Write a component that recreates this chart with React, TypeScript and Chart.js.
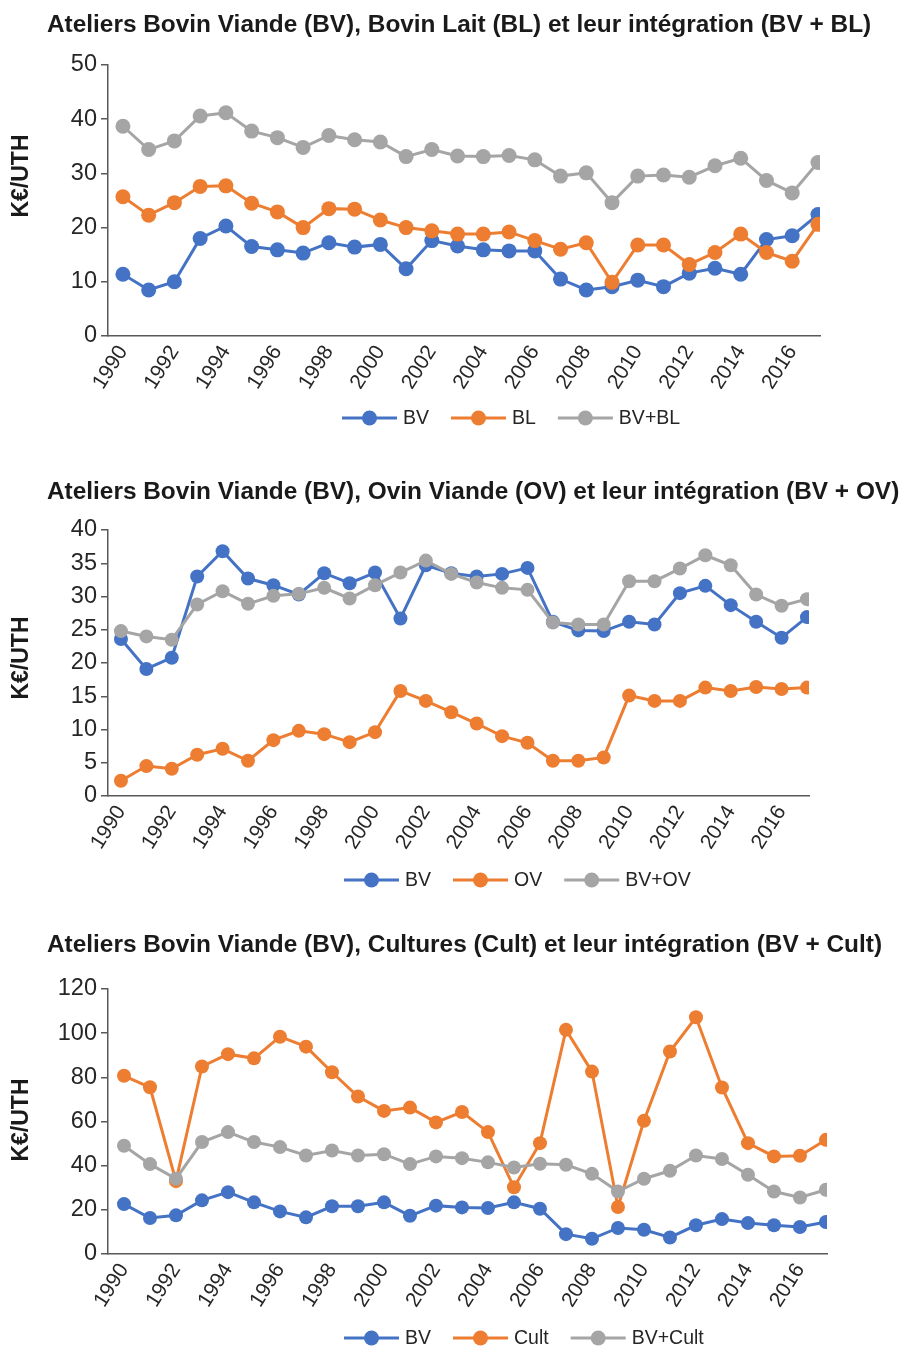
import React, { useEffect, useRef } from 'react';
import { Chart, registerables } from 'chart.js';

Chart.register(...registerables);

// ---------- DATA ----------
const years = [
  1990, 1991, 1992, 1993, 1994, 1995, 1996, 1997, 1998, 1999,
  2000, 2001, 2002, 2003, 2004, 2005, 2006, 2007, 2008, 2009,
  2010, 2011, 2012, 2013, 2014, 2015, 2016, 2017,
];
const xTickLabels = [1990, 1992, 1994, 1996, 1998, 2000, 2002, 2004, 2006, 2008, 2010, 2012, 2014, 2016];

// Chart 1 : BV / BL
const bv1 = [11.4, 8.5, 10.0, 18.0, 20.3, 16.5, 15.9, 15.3, 17.2, 16.4, 16.9, 12.4, 17.6, 16.6, 15.9, 15.7, 15.7, 10.5, 8.5, 9.1, 10.3, 9.1, 11.6, 12.5, 11.4, 17.8, 18.5, 22.4];
const bl = [25.7, 22.3, 24.6, 27.6, 27.7, 24.5, 22.9, 20.0, 23.5, 23.4, 21.4, 20.0, 19.4, 18.8, 18.8, 19.2, 17.6, 16.0, 17.2, 9.9, 16.8, 16.8, 13.2, 15.4, 18.8, 15.4, 13.8, 20.6];
const bvBl = [38.7, 34.4, 36.0, 40.6, 41.2, 37.8, 36.6, 34.8, 37.0, 36.2, 35.8, 33.1, 34.4, 33.2, 33.1, 33.3, 32.5, 29.5, 30.1, 24.6, 29.5, 29.7, 29.3, 31.4, 32.8, 28.7, 26.4, 32.0];

// Chart 2 : BV / OV
const bv2 = [23.6, 19.1, 20.8, 33.0, 36.8, 32.7, 31.7, 30.3, 33.5, 32.0, 33.6, 26.7, 34.7, 33.5, 33.0, 33.4, 34.3, 26.2, 24.9, 24.8, 26.2, 25.8, 30.5, 31.6, 28.7, 26.2, 23.8, 26.9];
const ov = [2.3, 4.5, 4.1, 6.2, 7.1, 5.3, 8.4, 9.8, 9.3, 8.1, 9.6, 15.8, 14.3, 12.6, 10.9, 9.0, 8.0, 5.3, 5.3, 5.8, 15.1, 14.3, 14.3, 16.3, 15.8, 16.4, 16.1, 16.3];
const bvOv = [24.8, 24.0, 23.5, 28.8, 30.8, 28.9, 30.1, 30.4, 31.3, 29.7, 31.7, 33.6, 35.4, 33.4, 32.1, 31.3, 31.0, 26.1, 25.8, 25.8, 32.3, 32.3, 34.2, 36.2, 34.7, 30.3, 28.6, 29.6];

// Chart 3 : BV / Cult
const bv3 = [22.6, 16.3, 17.5, 24.3, 28.0, 23.4, 19.3, 16.6, 21.6, 21.6, 23.4, 17.3, 21.9, 21.1, 20.8, 23.4, 20.5, 9.0, 6.9, 11.8, 11.0, 7.5, 13.0, 15.8, 14.0, 13.0, 12.2, 14.5];
const cult = [80.7, 75.5, 33.0, 84.9, 90.5, 88.6, 98.4, 93.9, 82.3, 71.3, 64.8, 66.3, 59.6, 64.3, 55.2, 30.2, 50.2, 101.5, 82.6, 21.3, 60.3, 91.7, 107.2, 75.4, 50.2, 44.2, 44.5, 51.7];
const bvCult = [49.0, 40.7, 34.1, 50.7, 55.2, 50.7, 48.4, 44.6, 46.9, 44.6, 45.2, 40.7, 44.2, 43.4, 41.5, 39.2, 40.9, 40.4, 36.3, 28.3, 34.1, 37.7, 44.6, 43.0, 35.9, 28.3, 25.6, 29.1];

const yAxisTitle = 'K€/UTH';

// ---------- STYLE ----------
const BLUE = '#4472C4';
const ORANGE = '#ED7D31';
const GREY = '#A5A5A5';
const AXIS = '#595959';
const TEXT = '#262626';
const FONT = '"Liberation Sans", Arial, Helvetica, sans-serif';

Chart.defaults.font.family = FONT;

type Spec = {
  title: string;
  series: { label: string; data: number[]; color: string }[];
  top: number;
  height: number;
  areaRight: number;
  areaTop: number;
  areaBottom: number;
  xMin: number;
  xMax: number;
  yMax: number;
  yStep: number;
  pointRadius: number;
  titleY: number;
  yTitleY: number;
  legendX: number;
  legendY: number;
};

const WIDTH = 914;
const AREA_LEFT = 108;

const specs: Spec[] = [
  {
    title: 'Ateliers Bovin Viande (BV), Bovin Lait (BL) et leur intégration (BV + BL)',
    series: [
      { label: 'BV', data: bv1, color: BLUE },
      { label: 'BL', data: bl, color: ORANGE },
      { label: 'BV+BL', data: bvBl, color: GREY },
    ],
    top: 0, height: 460, areaRight: 820, areaTop: 65, areaBottom: 336,
    xMin: 1989.42, xMax: 2017.08, yMax: 50, yStep: 10, pointRadius: 7.5,
    titleY: 31.5, yTitleY: 176, legendX: 342, legendY: 418,
  },
  {
    title: 'Ateliers Bovin Viande (BV), Ovin Viande (OV) et leur intégration (BV + OV)',
    series: [
      { label: 'BV', data: bv2, color: BLUE },
      { label: 'OV', data: ov, color: ORANGE },
      { label: 'BV+OV', data: bvOv, color: GREY },
    ],
    top: 460, height: 460, areaRight: 809, areaTop: 70, areaBottom: 336,
    xMin: 1989.49, xMax: 2017.08, yMax: 40, yStep: 5, pointRadius: 7,
    titleY: 39, yTitleY: 198, legendX: 344, legendY: 420,
  },
  {
    title: 'Ateliers Bovin Viande (BV), Cultures (Cult) et leur intégration (BV + Cult)',
    series: [
      { label: 'BV', data: bv3, color: BLUE },
      { label: 'Cult', data: cult, color: ORANGE },
      { label: 'BV+Cult', data: bvCult, color: GREY },
    ],
    top: 920, height: 431, areaRight: 827, areaTop: 69, areaBottom: 334,
    xMin: 1989.385, xMax: 2017.04, yMax: 120, yStep: 20, pointRadius: 7,
    titleY: 32, yTitleY: 200, legendX: 344, legendY: 418,
  },
];

const overlayPlugin = {
  id: 'overlay',
  afterDraw(chart: any, _args: any, opts: any) {
    const ctx = chart.ctx as CanvasRenderingContext2D;
    ctx.save();
    // Title
    ctx.font = `bold 24.4px ${FONT}`;
    ctx.fillStyle = '#1a1a1a';
    ctx.textAlign = 'left';
    ctx.textBaseline = 'alphabetic';
    ctx.fillText(opts.title, 47, opts.titleY);

    // Y axis title
    ctx.save();
    ctx.translate(22, opts.yTitleY);
    ctx.rotate(-Math.PI / 2);
    ctx.font = `bold 23px ${FONT}`;
    ctx.textAlign = 'center';
    ctx.textBaseline = 'middle';
    ctx.fillText(opts.yTitle, 0, 0);
    ctx.restore();

    // Legend
    let x = opts.legendX;
    const y = opts.legendY;
    ctx.font = `19.5px ${FONT}`;
    ctx.textBaseline = 'middle';
    ctx.textAlign = 'left';
    chart.data.datasets.forEach((ds: any) => {
      const lineLen = 55;
      ctx.strokeStyle = ds.borderColor;
      ctx.lineWidth = 3;
      ctx.beginPath();
      ctx.moveTo(x, y);
      ctx.lineTo(x + lineLen, y);
      ctx.stroke();
      ctx.fillStyle = ds.borderColor;
      ctx.beginPath();
      ctx.arc(x + lineLen / 2, y, 7.5, 0, Math.PI * 2);
      ctx.fill();
      ctx.fillStyle = TEXT;
      const tx = x + lineLen + 6;
      ctx.fillText(ds.label, tx, y + 1);
      x = tx + ctx.measureText(ds.label).width + 22;
    });
    ctx.restore();
  },
};

function Panel({ spec }: { spec: Spec }) {
  const ref = useRef<HTMLCanvasElement | null>(null);
  useEffect(() => {
    if (!ref.current) return;
    const n = spec.series.length;
    const chart = new Chart(ref.current, {
      type: 'line',
      data: {
        labels: years,
        datasets: spec.series.map((s, i) => ({
          label: s.label,
          data: s.data,
          borderColor: s.color,
          backgroundColor: s.color,
          pointBackgroundColor: s.color,
          pointBorderColor: s.color,
          pointBorderWidth: 0,
          pointRadius: spec.pointRadius,
          borderWidth: 3,
          tension: 0,
          fill: false,
          order: n - i,
        })),
      },
      plugins: [overlayPlugin],
      options: {
        responsive: false,
        animation: false,
        events: [],
        layout: {
          padding: {
            left: 0,
            right: WIDTH - spec.areaRight,
            top: spec.areaTop,
            bottom: 0,
          },
        },
        plugins: {
          legend: { display: false },
          title: { display: false },
          tooltip: { enabled: false },
          overlay: {
            title: spec.title,
            titleY: spec.titleY,
            yTitle: yAxisTitle,
            yTitleY: spec.yTitleY,
            legendX: spec.legendX,
            legendY: spec.legendY,
          },
        } as any,
        scales: {
          x: {
            type: 'linear',
            min: spec.xMin,
            max: spec.xMax,
            afterBuildTicks: (scale: any) => {
              scale.ticks = xTickLabels.map((v) => ({ value: v }));
            },
            afterFit: (scale: any) => {
              scale.height = spec.height - spec.areaBottom;
            },
            ticks: {
              autoSkip: false,
              minRotation: 58,
              maxRotation: 58,
              padding: -3,
              color: TEXT,
              font: { size: 21, family: FONT },
              callback: (v: any) => String(v),
            },
            grid: { display: false },
            border: { display: true, color: AXIS, width: 1.5 },
          },
          y: {
            type: 'linear',
            min: 0,
            max: spec.yMax,
            afterFit: (scale: any) => {
              scale.width = AREA_LEFT;
            },
            ticks: {
              stepSize: spec.yStep,
              padding: 4,
              color: TEXT,
              font: { size: 23.5, family: FONT },
            },
            grid: {
              display: true,
              drawOnChartArea: false,
              drawTicks: true,
              tickLength: 7,
              color: AXIS,
              lineWidth: 1.5,
            },
            border: { display: true, color: AXIS, width: 1.5 },
          },
        },
      } as any,
    });
    return () => chart.destroy();
  }, [spec]);

  return (
    <canvas
      ref={ref}
      width={WIDTH}
      height={spec.height}
      style={{ position: 'absolute', left: 0, top: spec.top, width: WIDTH, height: spec.height, display: 'block' }}
    />
  );
}

export default function App() {
  return (
    <div
      style={{
        position: 'absolute',
        left: 0,
        top: 0,
        width: WIDTH,
        height: 1351,
        overflow: 'hidden',
        background: '#ffffff',
      }}
    >
      {specs.map((s, i) => (
        <Panel key={i} spec={s} />
      ))}
    </div>
  );
}
